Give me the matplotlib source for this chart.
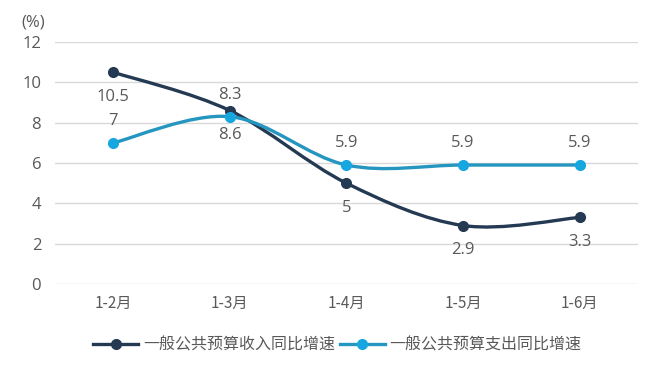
import matplotlib
matplotlib.use('Agg')
import matplotlib.pyplot as plt
from matplotlib.path import Path
from matplotlib.patches import PathPatch
from matplotlib.lines import Line2D
import numpy as np

plt.rcParams['font.family'] = ['Noto Sans CJK SC', 'DejaVu Sans']

months = ['1-2月', '1-3月', '1-4月', '1-5月', '1-6月']
income_growth = [10.5, 8.6, 5, 2.9, 3.3]
spending_growth = [7, 8.3, 5.9, 5.9, 5.9]
income_name = '一般公共预算收入同比增速'
spending_name = '一般公共预算支出同比增速'

income_color = '#243a52'
spending_line = '#2596c0'
spending_marker = '#17a7e0'
text_color = '#595959'
num_font = 'Open Sans'


def smooth_path(xs, ys):
    # Catmull-Rom style bezier, like office smoothed lines
    pts = np.column_stack([xs, ys]).astype(float)
    n = len(pts)
    verts = [pts[0]]
    codes = [Path.MOVETO]
    for i in range(n - 1):
        p0 = pts[i - 1] if i > 0 else pts[i]
        p1 = pts[i]
        p2 = pts[i + 1]
        p3 = pts[i + 2] if i + 2 < n else pts[i + 1]
        c1 = p1 + (p2 - p0) / 6.0
        c2 = p2 - (p3 - p1) / 6.0
        verts += [c1, c2, p2]
        codes += [Path.CURVE4] * 3
    return Path(verts, codes)


fig = plt.figure(figsize=(6.59, 3.72), dpi=100)
ax = fig.add_axes([0.0835, 0.2366, 0.8845, 0.6504])

x = np.arange(len(months))

for ys, lc, mc in [(income_growth, income_color, income_color),
                   (spending_growth, spending_line, spending_marker)]:
    patch = PathPatch(smooth_path(x, ys), facecolor='none', edgecolor=lc,
                      linewidth=2.4, capstyle='round', zorder=3)
    ax.add_patch(patch)
    ax.plot(x, ys, linestyle='none', marker='o', markersize=7,
            color=mc, zorder=4)

for xi, v in zip(x, income_growth):
    ax.annotate(f'{v:g}', (xi, v), xytext=(0, -12), textcoords='offset points',
                ha='center', va='top', fontsize=12, color=text_color,
                family=num_font)
for xi, v in zip(x, spending_growth):
    ax.annotate(f'{v:g}', (xi, v), xytext=(0, 10), textcoords='offset points',
                ha='center', va='bottom', fontsize=12, color=text_color,
                family=num_font)

ax.set_xlim(-0.5, len(months) - 0.5)
ax.set_ylim(0, 12)
ax.set_yticks(range(0, 13, 2))
ax.set_xticks(x)
ax.set_xticklabels(months)
ax.tick_params(length=0, labelsize=11, colors=text_color, pad=8)
ax.tick_params(axis='y', labelsize=12, pad=10)
for lbl in ax.get_yticklabels():
    lbl.set_family(num_font)
ax.grid(axis='y', color='#d9d9d9', linewidth=1)
ax.set_axisbelow(True)
for s in ax.spines.values():
    s.set_visible(False)

fig.text(0.033, 0.93, '(%)', fontsize=12, color=text_color, family=num_font)

handles = [
    Line2D([0], [0], color=income_color, linewidth=2.4, marker='o',
           markersize=7, markerfacecolor=income_color),
    Line2D([0], [0], color=spending_line, linewidth=2.4, marker='o',
           markersize=7, markerfacecolor=spending_marker, markeredgecolor=spending_marker),
]
fig.legend(handles, [income_name, spending_name], loc='center',
           bbox_to_anchor=(0.512, 0.072), ncol=2, frameon=False,
           fontsize=11.5, labelcolor=text_color, handlelength=2.8,
           columnspacing=0.3, handletextpad=0.3)

fig.savefig('out.png', dpi=100)
